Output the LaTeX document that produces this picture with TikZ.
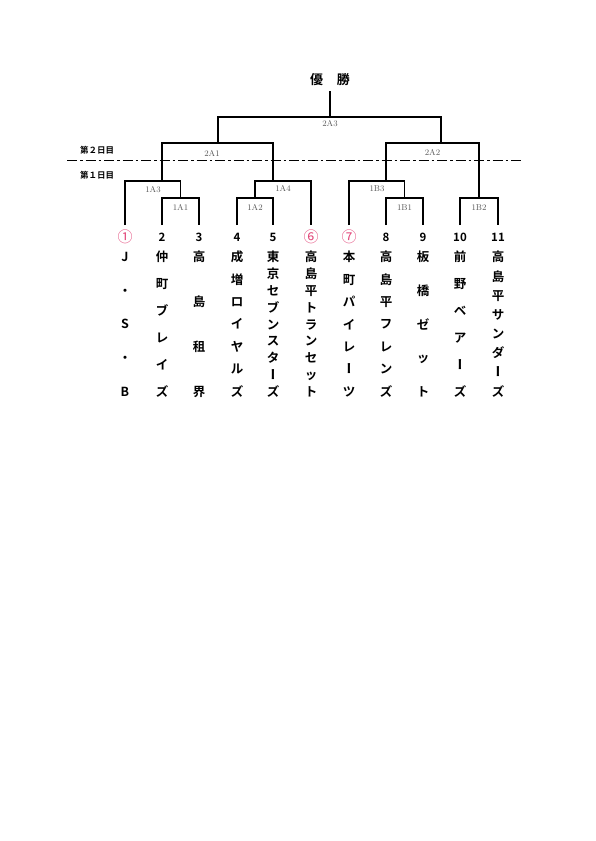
\documentclass[tikz,border=0pt]{standalone}
\usepackage{fontspec}
\newfontfamily\jp{Noto Sans CJK JP}[BoldFont={Noto Sans CJK JP Bold}]
\newfontfamily\jpv{Noto Sans CJK JP Bold}[RawFeature=+vert]
\usetikzlibrary{positioning}
\definecolor{maru}{RGB}{226,72,122}
\definecolor{mgray}{RGB}{85,85,85}
\newcommand\cho{{\jpv ー}}
\newcommand\maru[1]{{\color{maru}\mdseries\fontsize{15}{17}\selectfont#1}}
\ExplSyntaxOn
\cs_generate_variant:Nn \tl_map_inline:nn { o }
\NewDocumentCommand \tate { m }
  {
    \vbox_to_ht:nn { 145pt }
      {
        \offinterlineskip
        \vskip 0pt plus -1fill
        \tl_map_inline:on {#1}
          { \vfill \hbox_to_wd:nn { 14pt } { \hss \vrule height 10.5pt depth 1.5pt width 0pt ##1 \hss } }
      }
  }
\ExplSyntaxOff
\tikzset{
  bracket/.style={
    % the tournament lines
    line width=1.7pt,line join=miter,draw=black},
  daysep/.style={
    line width=1.8pt,
    dash pattern=on 10pt off 3pt on 2.5pt off 3pt},
  title/.style={inner sep=5pt,font=\jp\bfseries\fontsize{13}{15}\selectfont},
  day/.style={inner sep=1pt,font=\jp\bfseries\fontsize{8.5}{10}\selectfont},
  num/.style={inner sep=1pt,font=\jp\bfseries\fontsize{11.5}{13}\selectfont},
  team/.style={inner sep=0pt,anchor=north,font=\jp\bfseries\fontsize{12.5}{14}\selectfont},
  mlabel/.style={inner sep=1pt,text=mgray,font=\rmfamily\fontsize{8.5}{10}\selectfont}}

\begin{document}
\begin{tikzpicture}[x=1pt,y=-1pt]
	\useasboundingbox (0,0) rectangle (595,841);
	\node[title] (win) at (330,80) {優\hspace{14pt}勝};
	% days
	\node[day] (d2) at (97,150) {第２日目};
	\node[day] (d1) at (97,175) {第１日目};
	\coordinate (sepL) at (67,160.5);
	\coordinate (sepR) at (523,160.5);
	\draw[daysep] (sepL) -- (sepR);
	% teams
	\foreach \x/\num/\nm [count=\i] in {
		125/{\maru{①}}/{J・S・B},
		162/2/{仲町ブレイズ},
		199/3/{高島租界},
		237/4/{成増ロイヤルズ},
		273/5/{東京セブンスタ\cho ズ},
		311/{\maru{⑥}}/{高島平トランセット},
		349/{\maru{⑦}}/{本町パイレ\cho ツ},
		386/8/{高島平フレンズ},
		423/9/{板橋ゼット},
		460/10/{前野ベア\cho ズ},
		498/11/{高島平サンダ\cho ズ}}{
		\coordinate (l\i) at (\x,225);
		\node[num] (n\i) at (\x,237) {\num};
		\node[team] (t\i) at (\x,251) {\tate{\nm}};
	}
	% match points
	\coordinate (m1A1) at (180.5,198);
	\coordinate (m1A2) at (255,198);
	\coordinate (m1B1) at (404.5,198);
	\coordinate (m1B2) at (479,198);
	\coordinate (m1A3) at (153,181);
	\coordinate (m1A4) at (283,181);
	\coordinate (m1B3) at (377,181);
	\coordinate (u1A3) at (162,181);
	\coordinate (u1A4) at (273,181);
	\coordinate (u1B3) at (386,181);
	\coordinate (m2A1) at (218,143);
	\coordinate (m2A2) at (432.5,143);
	\coordinate (u2A2) at (441,143);
	\coordinate (m2A3) at (330,117);
	% first day
	\draw[bracket] (l2) |- (m1A1) -| (l3);
	\draw[bracket] (l4) |- (m1A2) -| (l5);
	\draw[bracket] (l8) |- (m1B1) -| (l9);
	\draw[bracket] (l10) |- (m1B2) -| (l11);
	\draw[bracket] (l1) |- (m1A3) -| (m1A1);
	\draw[bracket] (m1A2) |- (m1A4) -| (l6);
	\draw[bracket] (l7) |- (m1B3) -| (m1B1);
	% second day
	\draw[bracket] (u1A3) |- (m2A1) -| (u1A4);
	\draw[bracket] (u1B3) |- (m2A2) -| (m1B2);
	\draw[bracket] (m2A1) |- (m2A3) -| (u2A2);
	\draw[bracket] (m2A3) -- (m2A3 |- win.south);
	% labels
	\node[mlabel,below=5pt of m1A1] (t1A1) {1A1};
	\node[mlabel,below=5pt of m1A2] (t1A2) {1A2};
	\node[mlabel,below=5pt of m1B1] (t1B1) {1B1};
	\node[mlabel,below=5pt of m1B2] (t1B2) {1B2};
	\node[mlabel,below=4pt of m1A3] (t1A3) {1A3};
	\node[mlabel,below=3.5pt of m1A4] (t1A4) {1A4};
	\node[mlabel,below=3.5pt of m1B3] (t1B3) {1B3};
	\node[mlabel,below=6pt of m2A1,xshift=-6pt] (t2A1) {2A1};
	\node[mlabel,below=5pt of m2A2] (t2A2) {2A2};
	\node[mlabel,below=2.5pt of m2A3] (t2A3) {2A3};
\end{tikzpicture}
\end{document}
